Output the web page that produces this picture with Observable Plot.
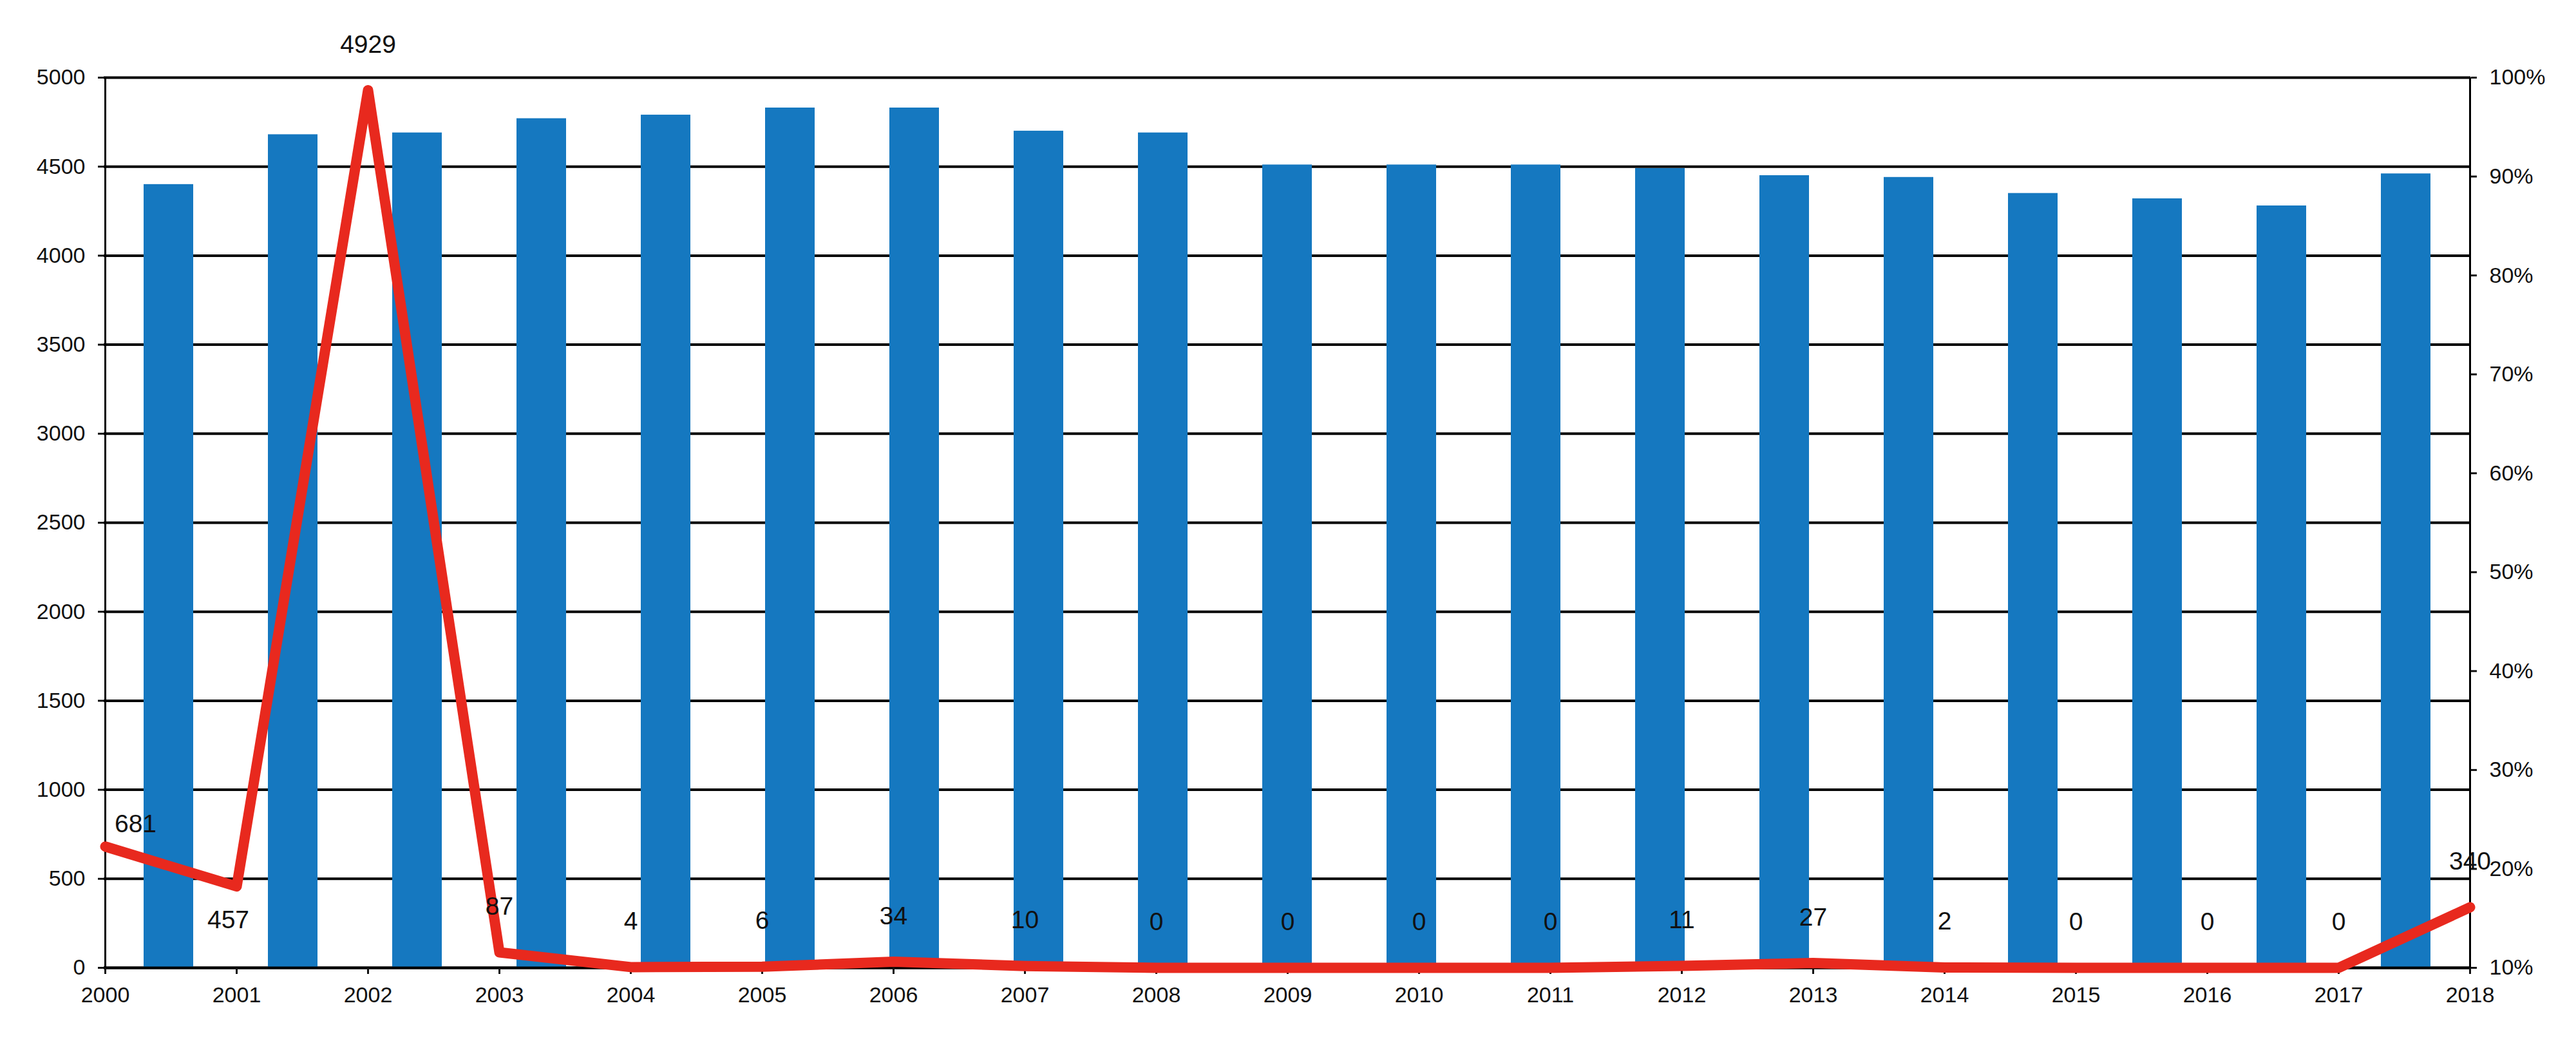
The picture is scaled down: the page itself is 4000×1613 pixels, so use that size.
<!DOCTYPE html>
<html>
<head>
<meta charset="utf-8">
<script src="https://cdn.jsdelivr.net/npm/d3@7"></script>
<script src="https://cdn.jsdelivr.net/npm/@observablehq/plot@0.6"></script>
<style>
  html, body { margin: 0; padding: 0; background: #ffffff; }
  #chart { position: relative; width: 4000px; height: 1613px; }
  #chart svg { position: absolute; left: 0; top: 0; }
</style>
</head>
<body>
<div id="chart"></div>
<script>
// ---- Data ----
const years = [2000, 2001, 2002, 2003, 2004, 2005, 2006, 2007, 2008, 2009,
               2010, 2011, 2012, 2013, 2014, 2015, 2016, 2017, 2018];
const barValues = [4400, 4680, 4690, 4770, 4790, 4830, 4830, 4700, 4690, 4510,
                   4510, 4510, 4490, 4450, 4440, 4350, 4320, 4280, 4460];
const lineValues = [681, 457, 4929, 87, 4, 6, 34, 10, 0, 0,
                    0, 0, 11, 27, 2, 0, 0, 0, 340];
const leftTicks = [0, 500, 1000, 1500, 2000, 2500, 3000, 3500, 4000, 4500, 5000];
const rightTicks = [0.1, 0.2, 0.3, 0.4, 0.5, 0.6, 0.7, 0.8, 0.9, 1.0];

// ---- Layout / style ----
const W = 4000, H = 1613;
const font = "'Liberation Sans', Arial, sans-serif";
const common = {
  width: W, height: H,
  marginTop: 120, marginRight: 164, marginBottom: 111, marginLeft: 161,
  style: { fontFamily: font, fontSize: "34px", color: "#111", background: "transparent", overflow: "visible" }
};
const labelNudge = { 2000: { dx: 47, dy: -35 }, 2001: { dx: -13, dy: 52 } };

const bars = years.map((year, i) => ({ year, value: barValues[i] }));
const line = years.map((year, i) => ({ year, value: lineValues[i] }));
const standardLabels = line.filter(d => !(d.year in labelNudge));

const chart = document.getElementById("chart");

// Layer 1: gridlines and bars (bars sit on a category band scale)
chart.append(Plot.plot({
  ...common,
  x: { type: "band", domain: years, paddingInner: 0.6, paddingOuter: 0.3, axis: null },
  y: { domain: [0, 5000], axis: null },
  marks: [
    Plot.ruleY(leftTicks, { stroke: "#000", strokeWidth: 4 }),
    Plot.barY(bars, { x: "year", y: "value", fill: "#1578c0" }),
    Plot.ruleY([0], { stroke: "#000", strokeWidth: 4 })
  ]
}));

// Layer 2: right percentage axis
chart.append(Plot.plot({
  ...common,
  x: { type: "point", domain: years, padding: 0, axis: null },
  y: { domain: [0.1, 1], axis: null },
  marks: [
    Plot.axisY(rightTicks, { anchor: "right", tickFormat: d3.format(".0%"), tickSize: 9, tickPadding: 20, strokeWidth: 3, label: null }),
    Plot.ruleX([2018], { stroke: "#000", strokeWidth: 3 })
  ]
}));

// Layer 3: line, labels, left and bottom axes
chart.append(Plot.plot({
  ...common,
  x: { type: "point", domain: years, padding: 0, axis: null },
  y: { domain: [0, 5000], axis: null },
  marks: [
    Plot.axisY(leftTicks, { anchor: "left", tickSize: 9, tickPadding: 20, strokeWidth: 3, label: null, tickFormat: d => String(d) }),
    Plot.axisX(years, { anchor: "bottom", tickSize: 10, tickPadding: 19, strokeWidth: 3, label: null, tickFormat: d => String(d) }),
    Plot.ruleX([2000], { stroke: "#000", strokeWidth: 3 }),
    Plot.line(line, { x: "year", y: "value", stroke: "#e8291e", strokeWidth: 16, strokeLinejoin: "round" }),
    Plot.text(standardLabels, { x: "year", y: "value", text: d => String(d.value), dy: -71, fontSize: 39, fill: "#111" }),
    ...Object.keys(labelNudge).map(k => Plot.text(line.filter(d => String(d.year) === k), {
      x: "year", y: "value", text: d => String(d.value),
      dx: labelNudge[k].dx, dy: labelNudge[k].dy, fontSize: 39, fill: "#111"
    }))
  ]
}));
</script>
</body>
</html>
